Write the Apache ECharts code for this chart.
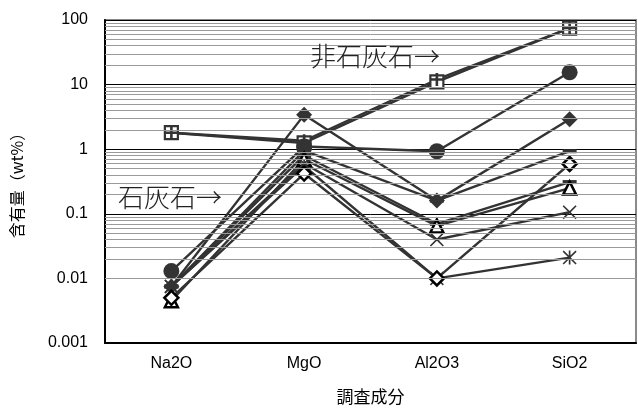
<!DOCTYPE html>
<html><head><meta charset="utf-8">
<script src="https://cdn.jsdelivr.net/npm/echarts@6/dist/echarts.min.js"></script>
<style>html,body{margin:0;padding:0;background:#fff}#c{width:638px;height:412px}</style>
</head><body><div id="c"></div>
<script>
var categories = ['Na2O', 'MgO', 'Al2O3', 'SiO2'];
var sqOpen   = [1.8, 1.25, 11, 75];
var plusS    = [1.8, 1.35, 12, 75];
var circleS  = [0.013, 1.1, 0.93, 15.5];
var diamondF = [0.0075, 3.4, 0.16, 2.9];
var dashS    = [0.0075, 0.95, 0.16, 0.93];
var barS     = [0.0075, 0.8, 0.07, 0.31];
var triS     = [0.0045, 0.7, 0.065, 0.25];
var crossS   = [0.0075, 0.6, 0.04, 0.106];
var starS    = [0.0075, 0.55, 0.01, 0.021];
var diamondO = [0.005, 0.42, 0.01, 0.59];
var yTickLabels = ['0.001', '0.01', '0.1', '1', '10', '100'];
var minorValues = [];
[0.001, 0.01, 0.1, 1, 10].forEach(function (d) { for (var k = 2; k <= 9; k++) minorValues.push(+(d * k).toPrecision(3)); });

var LINE = '#333333';
var P_PLUS = 'path://M4,0H6V4H10V6H6V10H4V6H0V4H4Z';
var P_X = 'path://M0.8,0L5,4.2L9.2,0L10,0.8L5.8,5L10,9.2L9.2,10L5,5.8L0.8,10L0,9.2L4.2,5L0,0.8Z';
var P_STAR = 'path://M0.8,0L4.4,3.6V0H5.6V3.6L9.2,0L10,0.8L5.8,5L10,9.2L9.2,10L5.6,6.4V10H4.4V6.4L0.8,10L0,9.2L4.2,5L0,0.8Z';
var P_DASH = 'path://M0,0H10V3H0Z';

function mk(name, data, symbol, size, fill, border, bw) {
  return {
    name: name, type: 'line', data: data, symbol: symbol, symbolSize: size,
    lineStyle: { color: LINE, width: 2.4 },
    itemStyle: { color: fill, borderColor: border || fill, borderWidth: bw || 0 },
    z: 3
  };
}

var series = [
  {
    type: 'line', data: [], silent: true, symbol: 'none',
    markLine: {
      silent: true, symbol: 'none', label: { show: false },
      lineStyle: { color: '#9a9a9a', width: 1, type: 'solid' },
      data: minorValues.map(function (v) { return { yAxis: v }; })
    }, z: 1
  },
  mk('sqOpen', sqOpen, 'rect', 13, '#fff', '#333', 2.2),
  mk('plus', plusS, P_PLUS, 13, '#333'),
  mk('circle', circleS, 'circle', 16, '#333'),
  mk('diamondF', diamondF, 'diamond', 16, '#333'),
  mk('dash', dashS, P_DASH, [14, 4], '#333'),
  mk('bar', barS, P_DASH, [14, 4], '#333'),
  mk('tri', triS, 'triangle', 13, '#fff', '#000', 2.5),
  mk('cross', crossS, P_X, 14, '#333'),
  mk('star', starS, P_STAR, 14, '#333'),
  mk('diamondO', diamondO, 'diamond', 14, '#fff', '#000', 2.5)
];

var chart = echarts.init(document.getElementById('c'), null, { renderer: 'canvas' });
chart.setOption({
  animation: false,
  grid: { left: 105, right: 2, top: 20, bottom: 69, show: true, borderColor: '#8a8a8a', borderWidth: 2 },
  xAxis: {
    type: 'category', data: categories, boundaryGap: true,
    name: '調査成分', nameLocation: 'middle', nameGap: 45,
    nameTextStyle: { fontFamily: 'Noto Sans CJK JP', fontSize: 17, color: '#000' },
    axisLine: { lineStyle: { color: '#000', width: 2 } },
    axisTick: { inside: true, length: 6, lineStyle: { color: '#000' } },
    axisLabel: { fontFamily: 'Liberation Sans', fontSize: 16, color: '#000', margin: 13 },
    splitLine: { show: false }
  },
  yAxis: {
    type: 'log', logBase: 10, min: 0.001, max: 100,
    name: '含有量（wt%）', nameLocation: 'middle', nameGap: 80, nameRotate: 90,
    nameTextStyle: { fontFamily: 'Noto Sans CJK JP', fontSize: 16, color: '#000' },
    axisLine: { show: true, lineStyle: { color: '#000', width: 2 } },
    axisTick: { show: true, inside: true, length: 6, lineStyle: { color: '#000' } },
    axisLabel: {
      fontFamily: 'Liberation Sans', fontSize: 16, color: '#000', margin: 17,
      formatter: function (v) {
        var e = Math.round(Math.log10(v));
        return yTickLabels[e + 3];
      }
    },
    splitLine: { show: true, lineStyle: { color: '#000', width: 1 } }
  },
  series: series,
  graphic: [
    { type: 'text', left: 310, top: 43, style: { text: '非石灰石→', font: '300 26px "Noto Sans CJK JP"', fill: '#222' }, z: 10 },
    { type: 'text', left: 118, top: 184, style: { text: '石灰石→', font: '300 26px "Noto Sans CJK JP"', fill: '#222' }, z: 10 }
  ]
});
</script></body></html>
